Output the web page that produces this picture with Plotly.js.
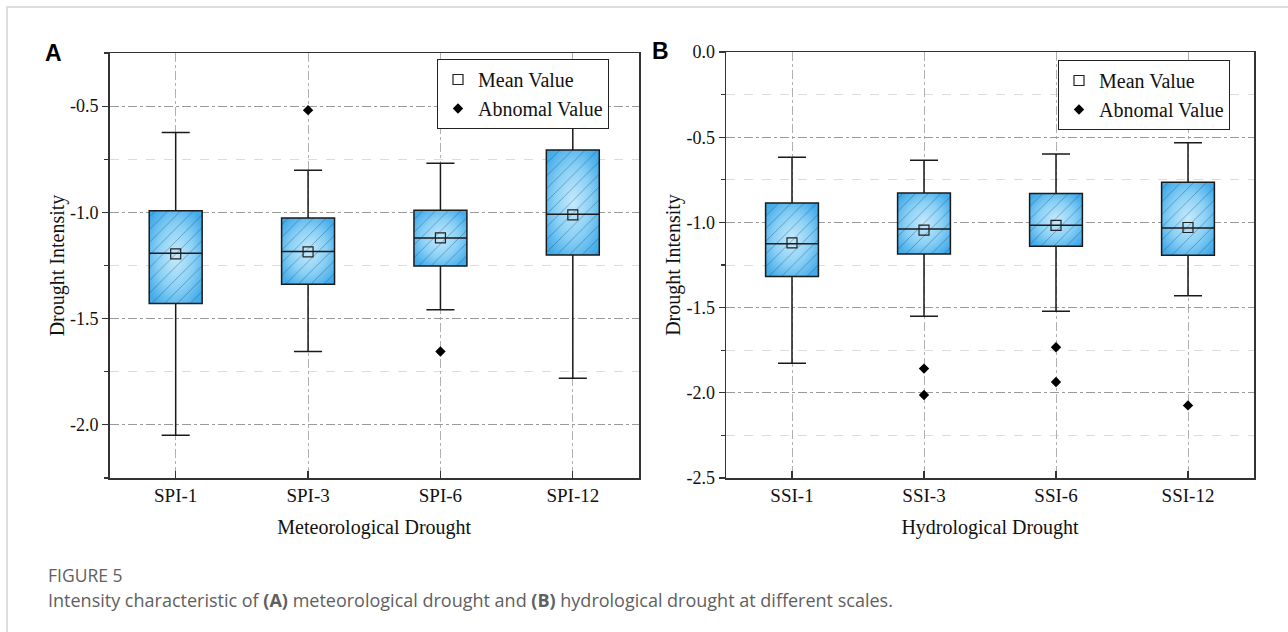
<!DOCTYPE html>
<html>
<head>
<meta charset="utf-8">
<script src="https://cdn.plot.ly/plotly-3.0.1.min.js"></script>
<style>
  html, body { margin: 0; padding: 0; background: #fff; }
  #fig { width: 1288px; height: 632px; }
</style>
</head>
<body>
<div id="fig"></div>
<script>
// Meteorological drought (SPI) box statistics
const spiCats   = ['SPI-1', 'SPI-3', 'SPI-6', 'SPI-12'];
const spiLower  = [-2.049, -1.655, -1.458, -1.781];
const spiQ1     = [-1.429, -1.338, -1.252, -1.201];
const spiMedian = [-1.192, -1.184, -1.120, -1.009];
const spiQ3     = [-0.992, -1.027, -0.990, -0.707];
const spiUpper  = [-0.624, -0.802, -0.769, -0.460];
const spiMean   = [-1.195, -1.186, -1.120, -1.012];
const spiOutX   = ['SPI-3', 'SPI-6'];
const spiOutY   = [-0.519, -1.655];

// Hydrological drought (SSI) box statistics
const ssiCats   = ['SSI-1', 'SSI-3', 'SSI-6', 'SSI-12'];
const ssiLower  = [-1.827, -1.551, -1.522, -1.430];
const ssiQ1     = [-1.318, -1.185, -1.140, -1.193];
const ssiMedian = [-1.125, -1.039, -1.017, -1.033];
const ssiQ3     = [-0.886, -0.827, -0.831, -0.765];
const ssiUpper  = [-0.618, -0.636, -0.599, -0.532];
const ssiMean   = [-1.120, -1.045, -1.017, -1.030];
const ssiOutX   = ['SSI-3', 'SSI-3', 'SSI-6', 'SSI-6', 'SSI-12'];
const ssiOutY   = [-1.858, -2.013, -1.733, -1.937, -2.074];

// Axis tick labels
const spiTickVals = [-0.5, -1.0, -1.5, -2.0];
const spiTickText = ['-0.5', '-1.0', '-1.5', '-2.0'];
const ssiTickVals = [0, -0.5, -1.0, -1.5, -2.0, -2.5];
const ssiTickText = ['0.0', '-0.5', '-1.0', '-1.5', '-2.0', '-2.5'];

const SERIF = 'Liberation Serif, Times New Roman, serif';
const SHADE = 'rgb(92, 186, 238)';
const BOX_W = 0.4;

function panelTraces(cats, lower, q1, med, q3, upper, mean, outX, outY, xa, ya, leg) {
  const span = q3.map((v, i) => v - q1[i]);
  return [
    { // shaded box body
      type: 'bar', x: cats, y: span, base: q1, width: BOX_W,
      xaxis: xa, yaxis: ya, showlegend: false, hoverinfo: 'skip',
      marker: { color: SHADE, line: { width: 0 } }
    },
    { // diagonal hatching over the body
      type: 'bar', x: cats, y: span, base: q1, width: BOX_W,
      xaxis: xa, yaxis: ya, showlegend: false, hoverinfo: 'skip',
      marker: {
        color: 'rgba(0,0,0,0)', line: { width: 0 },
        pattern: { shape: '/', size: 9, solidity: 0.1, fgcolor: 'rgba(30,70,110,0.45)',
                   bgcolor: 'rgba(0,0,0,0)', fillmode: 'replace' }
      }
    },
    { // outline, median and whiskers
      type: 'box', x: cats, q1: q1, median: med, q3: q3,
      lowerfence: lower, upperfence: upper,
      width: BOX_W, whiskerwidth: 0.53, boxpoints: false,
      fillcolor: 'rgba(0,0,0,0)', line: { color: '#1a1a1a', width: 1.5 },
      xaxis: xa, yaxis: ya, showlegend: false
    },
    {
      type: 'scatter', mode: 'markers', name: 'Mean Value', x: cats, y: mean,
      xaxis: xa, yaxis: ya, legend: leg,
      marker: { symbol: 'square-open', size: 10, color: '#222', line: { width: 1.2, color: '#222' } }
    },
    {
      type: 'scatter', mode: 'markers', name: 'Abnomal Value', x: outX, y: outY,
      xaxis: xa, yaxis: ya, legend: leg,
      marker: { symbol: 'diamond', size: 8, color: '#000' }
    }
  ];
}

const data = [].concat(
  panelTraces(spiCats, spiLower, spiQ1, spiMedian, spiQ3, spiUpper, spiMean, spiOutX, spiOutY, 'x', 'y', 'legend'),
  panelTraces(ssiCats, ssiLower, ssiQ1, ssiMedian, ssiQ3, ssiUpper, ssiMean, ssiOutX, ssiOutY, 'x2', 'y2', 'legend2')
);

const W = 1288, H = 632;
const px = v => v / W;
const py = v => (H - v) / H;

function xAxis(domain, title, anchor) {
  return {
    domain: domain, anchor: anchor, type: 'category', range: [-0.5, 3.5],
    showline: true, linecolor: '#333', linewidth: 1.5, mirror: true,
    ticks: 'inside', ticklen: 7, tickcolor: '#333', tickwidth: 1.2,
    showgrid: true, gridcolor: '#b0b0b0', griddash: 'dashdot', gridwidth: 1,
    zeroline: false, tickfont: { family: SERIF, size: 19, color: '#111' },
    title: { text: title, font: { family: SERIF, size: 20, color: '#111' }, standoff: 14 },
    fixedrange: true
  };
}

function yAxis(domain, range, vals, text, anchor) {
  return {
    domain: domain, anchor: anchor, range: range,
    tickmode: 'array', tickvals: vals, ticktext: text,
    showline: true, linecolor: '#333', linewidth: 1.5, mirror: true,
    ticks: 'outside', ticklen: 6, tickcolor: '#333', tickwidth: 1.2,
    showgrid: true, gridcolor: '#9a9a9a', griddash: 'dashdot', gridwidth: 1,
    minor: { dtick: 0.25, tick0: 0, ticks: 'outside', ticklen: 4, tickcolor: '#333',
             showgrid: true, gridcolor: '#dcdcdc', griddash: 'dash', gridwidth: 1 },
    zeroline: false, tickfont: { family: SERIF, size: 18, color: '#111' },
    title: { text: 'Drought Intensity', font: { family: SERIF, size: 20, color: '#111' }, standoff: 0 },
    fixedrange: true
  };
}

function legendBox(xr, yt) {
  return {
    x: xr, xanchor: 'right', y: yt, yanchor: 'top',
    bgcolor: '#fff', bordercolor: '#222', borderwidth: 1,
    font: { family: SERIF, size: 20, color: '#111' }, tracegroupgap: 0
  };
}

const layout = {
  width: W, height: H,
  margin: { l: 0, r: 0, t: 0, b: 0 },
  paper_bgcolor: '#fff', plot_bgcolor: '#fff',
  barmode: 'overlay', bargap: 0,
  xaxis:  xAxis([px(109.5), px(639)], 'Meteorological Drought', 'y'),
  yaxis:  yAxis([py(478), py(53)], [-2.25, -0.25], spiTickVals, spiTickText, 'x'),
  xaxis2: xAxis([px(726), px(1254)], 'Hydrological Drought', 'y2'),
  yaxis2: yAxis([py(478), py(52)], [-2.5, 0], ssiTickVals, ssiTickText, 'x2'),
  legend:  legendBox(px(609), py(59)),
  legend2: legendBox(px(1230), py(60)),
  shapes: [
    { type: 'rect', xref: 'paper', yref: 'paper', x0: px(7), x1: 1.02, y0: -0.02, y1: py(7),
      line: { color: '#d4d4d4', width: 1.5 }, fillcolor: 'rgba(0,0,0,0)', layer: 'below' }
  ],
  annotations: [
    { text: '<b>A</b>', xref: 'paper', yref: 'paper', x: px(53.5), y: py(53), xanchor: 'center', yanchor: 'middle',
      showarrow: false, font: { family: 'Liberation Sans, Arial, sans-serif', size: 23, color: '#000' } },
    { text: '<b>B</b>', xref: 'paper', yref: 'paper', x: px(660), y: py(51), xanchor: 'center', yanchor: 'middle',
      showarrow: false, font: { family: 'Liberation Sans, Arial, sans-serif', size: 23, color: '#000' } },
    { text: 'FIGURE 5', xref: 'paper', yref: 'paper', x: px(46), y: py(575), xanchor: 'left', yanchor: 'middle',
      showarrow: false, font: { family: 'Open Sans, sans-serif', size: 17.5, color: '#606060' } },
    { text: 'Intensity characteristic of <b>(A)</b> meteorological drought and <b>(B)</b> hydrological drought at different scales.',
      xref: 'paper', yref: 'paper', x: px(46), y: py(600), xanchor: 'left', yanchor: 'middle',
      showarrow: false, font: { family: 'Open Sans, sans-serif', size: 18, color: '#606060' } }
  ]
};

// Soft radial shading inside each box body
function shadeBoxes(gd) {
  const svg = gd.querySelector('svg.main-svg');
  if (!svg) return;
  let defs = svg.querySelector('defs');
  const ns = 'http://www.w3.org/2000/svg';
  if (!defs) { defs = document.createElementNS(ns, 'defs'); svg.insertBefore(defs, svg.firstChild); }
  if (!svg.querySelector('#boxShade')) {
    const g = document.createElementNS(ns, 'radialGradient');
    g.setAttribute('id', 'boxShade');
    g.setAttribute('cx', '0.5'); g.setAttribute('cy', '0.5'); g.setAttribute('r', '0.62');
    [['0', '#c6eafc'], ['0.55', '#8ad1f6'], ['1', '#42abea']].forEach(([o, c]) => {
      const s = document.createElementNS(ns, 'stop');
      s.setAttribute('offset', o); s.setAttribute('stop-color', c);
      g.appendChild(s);
    });
    defs.appendChild(g);
  }
  gd.querySelectorAll('.barlayer path').forEach(p => {
    if (p.style.fill === SHADE) p.style.fill = 'url(#boxShade)';
  });
}

const gd = document.getElementById('fig');
Plotly.newPlot(gd, data, layout, { staticPlot: true, displayModeBar: false }).then(() => shadeBoxes(gd));
</script>
</body>
</html>
